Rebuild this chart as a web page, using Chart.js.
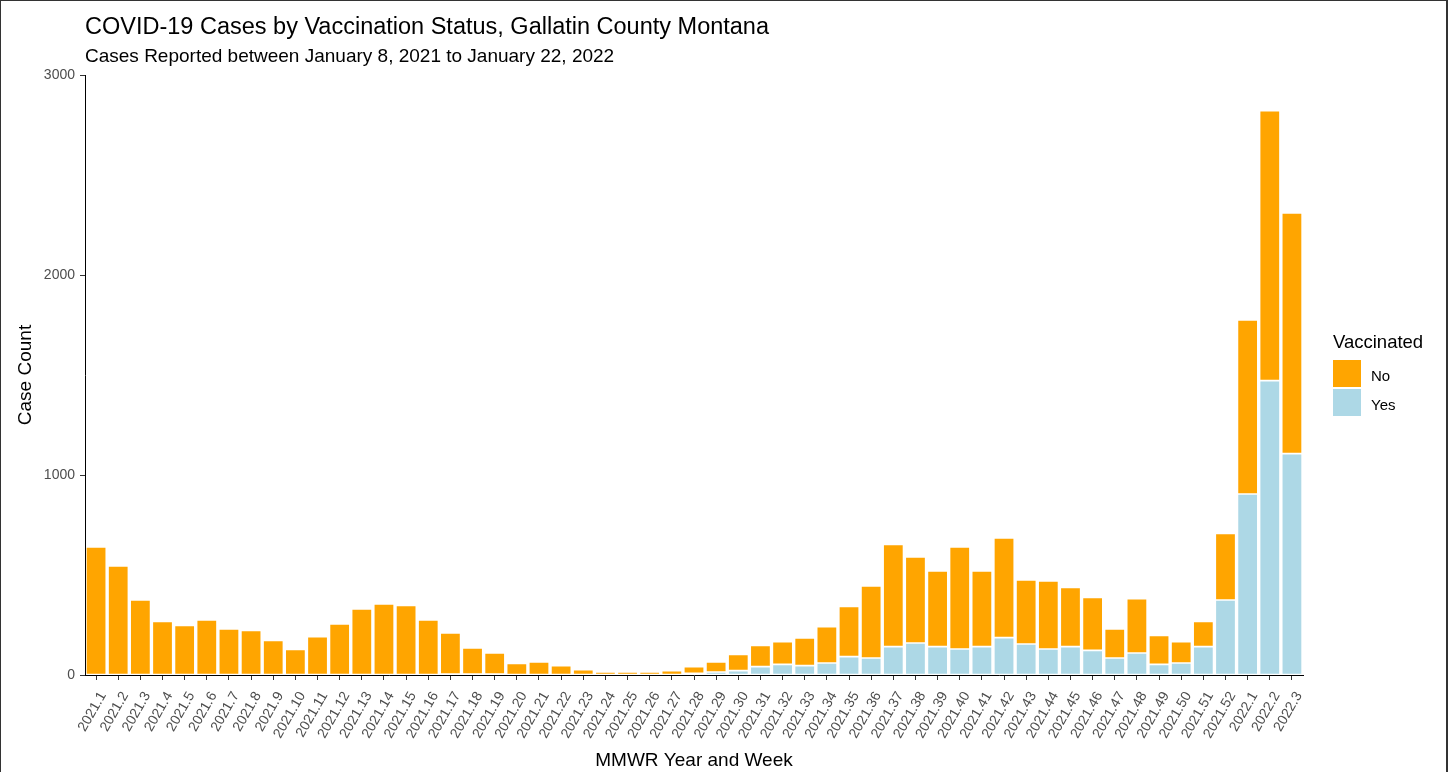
<!DOCTYPE html>
<html>
<head>
<meta charset="utf-8">
<title>COVID-19 Cases by Vaccination Status</title>
<script src="https://cdn.jsdelivr.net/npm/chart.js@4/dist/chart.umd.min.js"></script>
<style>
  html, body { margin: 0; padding: 0; background: #fff; }
  #wrap   { position: relative; width: 1448px; height: 772px; font-family: "Liberation Sans", Arial, sans-serif; }
  #frame  { position: absolute; left: 0; top: 0; width: 1448px; height: 772px; box-sizing: border-box;
            border: 1px solid #333; border-bottom: none; border-right-width: 2px; pointer-events: none; }
  #legend { position: absolute; left: 1333px; top: 330px; color: #000; }
  #legend .lg-title { font-size: 18.5px; line-height: 24px; margin-bottom: 6px; }
  #legend .lg-row   { display: flex; align-items: flex-start; height: 29px; }
  #legend .lg-box   { width: 28px; height: 27px; margin-right: 10px; }
  #legend .lg-label { font-size: 15px; line-height: 27px; padding-top: 2px; }
</style>
</head>
<body>
<div id="wrap">
  <canvas id="chart" width="1448" height="772"></canvas>
  <div id="legend"></div>
  <div id="frame"></div>
</div>
<script>
/* ── Data ──────────────────────────────────────────────────────────────── */

var weeks = [
  '2021.1', '2021.2', '2021.3', '2021.4', '2021.5', '2021.6', '2021.7', '2021.8', '2021.9', '2021.10',
  '2021.11', '2021.12', '2021.13', '2021.14', '2021.15', '2021.16', '2021.17', '2021.18', '2021.19', '2021.20',
  '2021.21', '2021.22', '2021.23', '2021.24', '2021.25', '2021.26', '2021.27', '2021.28', '2021.29', '2021.30',
  '2021.31', '2021.32', '2021.33', '2021.34', '2021.35', '2021.36', '2021.37', '2021.38', '2021.39', '2021.40',
  '2021.41', '2021.42', '2021.43', '2021.44', '2021.45', '2021.46', '2021.47', '2021.48', '2021.49', '2021.50',
  '2021.51', '2021.52', '2022.1', '2022.2', '2022.3'
];

// vaccinated cases (bottom segment)
var yesCases = [
  0, 0, 0, 0, 0, 0, 0, 0, 0, 0,
  0, 0, 0, 0, 0, 0, 5, 5, 5, 0,
  0, 0, 0, 0, 0, 0, 0, 8, 15, 22,
  42, 53, 47, 60, 92, 85, 142, 160, 142, 130,
  142, 187, 155, 130, 142, 123, 85, 110, 53, 60,
  142, 375, 905, 1472, 1107
];

// unvaccinated cases (top segment)
var noCases = [
  640, 545, 375, 268, 248, 275, 230, 223, 173, 128,
  192, 255, 330, 355, 348, 275, 205, 130, 105, 58,
  65, 47, 27, 15, 15, 15, 22, 34, 50, 81,
  106, 114, 138, 182, 251, 360, 511, 430, 378, 510,
  378, 498, 320, 340, 296, 265, 145, 272, 145, 107,
  126, 333, 870, 1350, 1203
];

var yTicks = [0, 1000, 2000, 3000];

var COLOR_NO  = '#FFA500';
var COLOR_YES = '#ADD8E6';

/* ── Chart ─────────────────────────────────────────────────────────────── */

(function () {
  'use strict';

  var FONT = '"Liberation Sans", Arial, sans-serif';
  var TICK_GRAY = '#4D4D4D';

  var ctx = document.getElementById('chart');

  function barSet(label, data, color) {
    return {
      label: label,
      data: data,
      backgroundColor: color,
      borderColor: 'rgba(255,255,255,0.85)',
      borderWidth: 0.8,
      borderSkipped: false,
      barPercentage: 0.92,
      categoryPercentage: 1.0,
    };
  }

  var chart = new Chart(ctx, {
    type: 'bar',
    data: {
      labels: weeks,
      datasets: [
        barSet('Yes', yesCases, COLOR_YES),   // first = bottom of stack
        barSet('No',  noCases,  COLOR_NO),
      ],
    },
    options: {
      responsive: false,
      animation: false,
      layout: { padding: { left: 0, right: 145, top: 0, bottom: 0 } },
      plugins: {
        legend: { display: false },
        tooltip: { enabled: false },
        title: {
          display: true,
          text: 'COVID-19 Cases by Vaccination Status, Gallatin County Montana',
          align: 'start',
          fullSize: false,
          color: '#000',
          font: { family: FONT, size: 23.5, weight: 'normal', lineHeight: 1.2 },
          padding: { top: 13, bottom: 0 },
        },
        subtitle: {
          display: true,
          text: 'Cases Reported between January 8, 2021 to January 22, 2022',
          align: 'start',
          fullSize: false,
          color: '#000',
          font: { family: FONT, size: 19, weight: 'normal', lineHeight: 1.2 },
          padding: { top: 4.5, bottom: 6.5 },
        },
      },
      scales: {
        x: {
          stacked: true,
          offset: true,
          grid: { drawOnChartArea: false, drawTicks: true, tickLength: 5, color: '#333', offset: false },
          border: { display: true, color: '#000', width: 1 },
          ticks: {
            autoSkip: false,
            minRotation: 60,
            maxRotation: 60,
            padding: 9,
            labelOffset: 7,
            color: TICK_GRAY,
            font: { family: FONT, size: 14 },
          },
          title: {
            display: true,
            text: 'MMWR Year and Week',
            color: '#000',
            font: { family: FONT, size: 19, lineHeight: 1.2 },
            padding: { top: 7.6, bottom: 0 },
          },
          afterFit: function (scale) { scale.height = 97; },
        },
        y: {
          stacked: true,
          min: 0,
          max: 3000,
          afterBuildTicks: function (scale) {
            scale.ticks = yTicks.map(function (v) { return { value: v }; });
          },
          grid: { drawOnChartArea: false, drawTicks: true, tickLength: 5, color: '#333' },
          border: { display: true, color: '#000', width: 1 },
          ticks: {
            padding: 5,
            color: TICK_GRAY,
            font: { family: FONT, size: 14 },
            callback: function (v) { return String(v); },
          },
          title: {
            display: true,
            text: 'Case Count',
            color: '#000',
            font: { family: FONT, size: 19, lineHeight: 1.2 },
            padding: { top: 14.6, bottom: 0 },
          },
          afterFit: function (scale) { scale.width = 85; },
        },
      },
    },
  });

  /* ── HTML legend (ggplot style, No above Yes) ────────────────────────── */

  var legend = document.getElementById('legend');
  var items = chart.data.datasets.slice().reverse().map(function (ds) {
    return '<div class="lg-row">' +
        '<span class="lg-box" style="background:' + ds.backgroundColor + '"></span>' +
        '<span class="lg-label">' + ds.label + '</span>' +
      '</div>';
  }).join('');

  legend.innerHTML = '<div class="lg-title">Vaccinated</div>' + items;
})();
</script>
</body>
</html>
